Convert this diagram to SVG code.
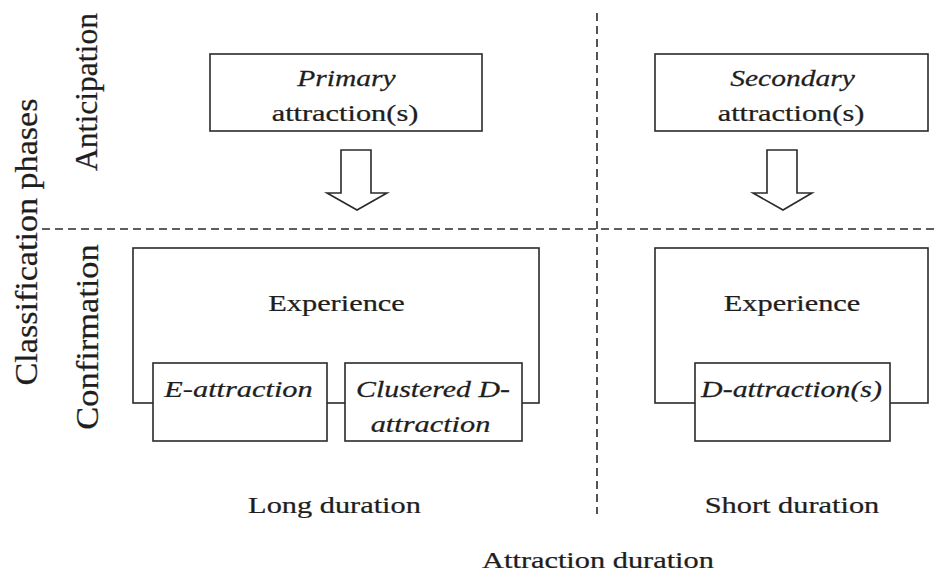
<svg xmlns="http://www.w3.org/2000/svg" width="939" height="573" viewBox="0 0 939 573">
<style>
.box{fill:#fff;stroke:#2a2a2a;stroke-width:1.6}
.dash{fill:none;stroke:#2a2a2a;stroke-width:1.6;stroke-dasharray:8 5}
.arr{fill:#fff;stroke:#2a2a2a;stroke-width:1.6;stroke-linejoin:miter}
text{font-family:"Liberation Serif","Times New Roman",serif;fill:#1e1e1e;stroke:#1e1e1e;stroke-width:0.25;font-size:24px;text-anchor:middle}
.it{font-style:italic}
.v{font-size:31px}
</style>
<rect width="939" height="573" fill="#fff"/>
<g id="axes">
<line class="dash" x1="42" y1="229" x2="939" y2="229"/>
<line class="dash" x1="597" y1="13" x2="597" y2="514"/>
<text class="v" transform="translate(97,92) rotate(-90) scale(1.02,1)">Anticipation</text>
<text class="v" transform="translate(98,337) rotate(-90) scale(1.11,1)">Confirmation</text>
<text class="v" transform="translate(37,242) rotate(-90) scale(1.1,1)">Classification phases</text>
<text transform="translate(334.5,513) scale(1.265,1)">Long duration</text>
<text transform="translate(792,513) scale(1.265,1)">Short duration</text>
<text transform="translate(598,568) scale(1.265,1)">Attraction duration</text>
</g>
<g id="primary">
<rect class="box" x="210" y="54" width="272" height="77"/>
<text class="it" transform="translate(346.5,86) scale(1.23,1)">Primary</text>
<text transform="translate(345,121) scale(1.265,1)">attraction(s)</text>
</g>
<g id="secondary">
<rect class="box" x="655" y="54" width="273" height="77"/>
<text class="it" transform="translate(792.5,86) scale(1.23,1)">Secondary</text>
<text transform="translate(791,121) scale(1.265,1)">attraction(s)</text>
</g>
<g id="connectors">
<polygon class="arr" points="341,150 371,150 371,193 387,193 357,210 327,193 341,193"/>
<polygon class="arr" points="767,150 797,150 797,193 812,193 783,210 753,193 767,193"/>
</g>
<g id="experience-long">
<rect class="box" x="133" y="248" width="406" height="155"/>
<text transform="translate(336.5,311) scale(1.265,1)">Experience</text>
</g>
<g id="e-attraction">
<rect class="box" x="153" y="363" width="174" height="78"/>
<text class="it" transform="translate(238.5,397) scale(1.265,1)">E-attraction</text>
</g>
<g id="clustered-d-attraction">
<rect class="box" x="345" y="363" width="177" height="78"/>
<text class="it" transform="translate(433,397) scale(1.245,1)">Clustered D-</text>
<text class="it" transform="translate(430.5,432) scale(1.265,1)">attraction</text>
</g>
<g id="experience-short">
<rect class="box" x="655" y="248" width="273" height="155"/>
<text transform="translate(792,311) scale(1.265,1)">Experience</text>
</g>
<g id="d-attraction">
<rect class="box" x="695" y="363" width="195" height="78"/>
<text class="it" transform="translate(791.5,397) scale(1.245,1)">D-attraction(s)</text>
</g>
</svg>
